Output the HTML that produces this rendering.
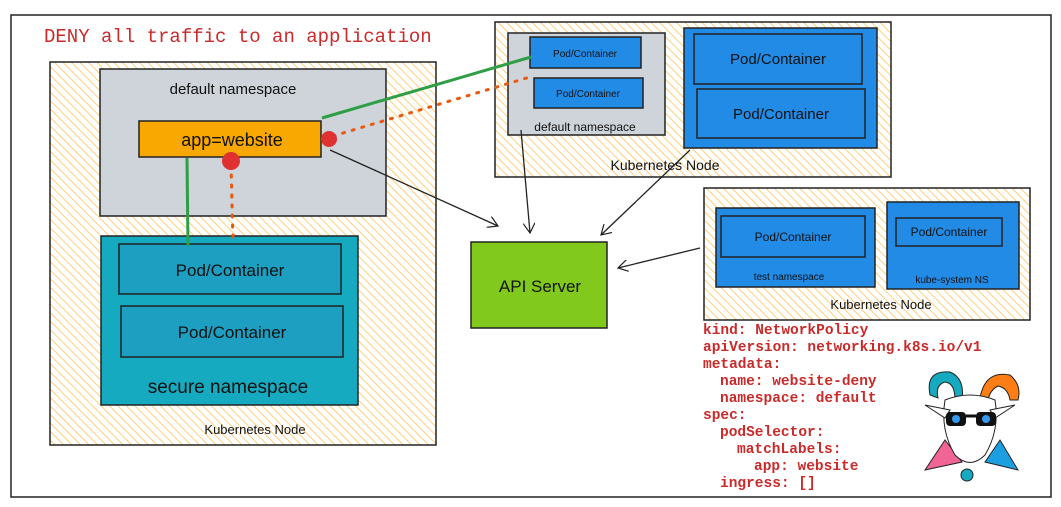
<!DOCTYPE html>
<html><head><meta charset="utf-8"><style>
html,body{margin:0;padding:0;background:#fff;}
svg{display:block;}
.h{font-family:"Liberation Sans",sans-serif;fill:#111;}
.m{font-family:"Liberation Mono",monospace;fill:#c92a2a;font-weight:bold;}
</style></head><body>
<svg width="1061" height="507" viewBox="0 0 1061 507" xmlns="http://www.w3.org/2000/svg">
<defs>
<pattern id="hat" width="6" height="6" patternUnits="userSpaceOnUse" patternTransform="rotate(-45)">
<rect width="6" height="6" fill="#fff"/>
<line x1="0" y1="0" x2="0" y2="6" stroke="#fcc45a" stroke-width="1.6"/>
</pattern>
<marker id="ar" markerWidth="12" markerHeight="12" refX="10" refY="6" orient="auto" markerUnits="userSpaceOnUse">
<path d="M0,0 L10,6 L0,12" fill="none" stroke="#222" stroke-width="1.2"/>
</marker>
</defs>
<rect x="11" y="15" width="1040" height="482" fill="#fff" stroke="#222" stroke-width="1.5"/>
<text x="44" y="42" class="m" font-size="19" font-weight="normal" style="font-weight:normal">DENY all traffic to an application</text>

<!-- left node -->
<rect x="50" y="62" width="386" height="383" fill="url(#hat)" stroke="#222" stroke-width="1.5"/>
<rect x="100" y="69" width="286" height="147" fill="#ced4da" stroke="#222" stroke-width="1.5"/>
<text x="233" y="94" class="h" font-size="15" text-anchor="middle">default namespace</text>
<rect x="139" y="121" width="182" height="36" fill="#f8a800" stroke="#222" stroke-width="1.5"/>
<text x="232" y="146" class="h" font-size="18" text-anchor="middle">app=website</text>
<rect x="101" y="236" width="257" height="169" fill="#15aabf" stroke="#222" stroke-width="1.5"/>
<rect x="119" y="244" width="222" height="50" fill="#1c9fc0" stroke="#222" stroke-width="1.5"/>
<text x="230" y="276" class="h" font-size="17" text-anchor="middle">Pod/Container</text>
<rect x="121" y="306" width="222" height="51" fill="#1c9fc0" stroke="#222" stroke-width="1.5"/>
<text x="232" y="338" class="h" font-size="17" text-anchor="middle">Pod/Container</text>
<text x="228" y="393" class="h" font-size="19" text-anchor="middle">secure namespace</text>
<text x="255" y="434" class="h" font-size="13" text-anchor="middle">Kubernetes Node</text>

<!-- top right node -->
<rect x="495" y="22" width="396" height="155" fill="url(#hat)" stroke="#222" stroke-width="1.5"/>
<rect x="508" y="33" width="157" height="102" fill="#ced4da" stroke="#222" stroke-width="1.5"/>
<rect x="530" y="37" width="111" height="31" fill="#228be6" stroke="#222" stroke-width="1.5"/>
<text x="585" y="57" class="h" font-size="10" text-anchor="middle">Pod/Container</text>
<rect x="534" y="78" width="109" height="30" fill="#228be6" stroke="#222" stroke-width="1.5"/>
<text x="588" y="97" class="h" font-size="10" text-anchor="middle">Pod/Container</text>
<text x="585" y="131" class="h" font-size="12" text-anchor="middle">default namespace</text>
<rect x="684" y="28" width="193" height="120" fill="#228be6" stroke="#222" stroke-width="1.5"/>
<rect x="694" y="34" width="168" height="50" fill="#228be6" stroke="#222" stroke-width="1.5"/>
<text x="778" y="64" class="h" font-size="15" text-anchor="middle">Pod/Container</text>
<rect x="697" y="89" width="168" height="49" fill="#228be6" stroke="#222" stroke-width="1.5"/>
<text x="781" y="119" class="h" font-size="15" text-anchor="middle">Pod/Container</text>
<text x="665" y="170" class="h" font-size="14" text-anchor="middle">Kubernetes Node</text>

<!-- API server -->
<rect x="471" y="242" width="136" height="86" fill="#82c91e" stroke="#222" stroke-width="1.5"/>
<text x="540" y="292" class="h" font-size="17" text-anchor="middle">API Server</text>

<!-- right node -->
<rect x="704" y="188" width="326" height="132" fill="url(#hat)" stroke="#222" stroke-width="1.5"/>
<rect x="716" y="208" width="159" height="79" fill="#228be6" stroke="#222" stroke-width="1.5"/>
<rect x="721" y="216" width="144" height="41" fill="#228be6" stroke="#222" stroke-width="1.5"/>
<text x="793" y="241" class="h" font-size="12" text-anchor="middle">Pod/Container</text>
<text x="789" y="280" class="h" font-size="10" text-anchor="middle">test namespace</text>
<rect x="887" y="202" width="132" height="87" fill="#228be6" stroke="#222" stroke-width="1.5"/>
<rect x="896" y="218" width="106" height="28" fill="#228be6" stroke="#222" stroke-width="1.5"/>
<text x="949" y="236" class="h" font-size="12" text-anchor="middle">Pod/Container</text>
<text x="952" y="283" class="h" font-size="10" text-anchor="middle">kube-system NS</text>
<text x="881" y="309" class="h" font-size="13" text-anchor="middle">Kubernetes Node</text>

<!-- connectors -->
<line x1="187" y1="158" x2="188" y2="246" stroke="#2f9e44" stroke-width="3"/>
<line x1="322" y1="118" x2="531" y2="57" stroke="#2f9e44" stroke-width="3"/>
<line x1="231" y1="165" x2="233" y2="242" stroke="#e8590c" stroke-width="3" stroke-dasharray="2,8" stroke-linecap="round"/>
<line x1="333" y1="136" x2="530" y2="77" stroke="#e8590c" stroke-width="3" stroke-dasharray="2,8" stroke-linecap="round"/>
<circle cx="329" cy="139" r="8" fill="#e03131"/>
<circle cx="231" cy="161" r="9" fill="#e03131"/>
<line x1="330" y1="150" x2="498" y2="226" stroke="#222" stroke-width="1.3" marker-end="url(#ar)"/>
<line x1="521" y1="130" x2="530" y2="233" stroke="#222" stroke-width="1.3" marker-end="url(#ar)"/>
<line x1="690" y1="150" x2="601" y2="235" stroke="#222" stroke-width="1.3" marker-end="url(#ar)"/>
<line x1="700" y1="248" x2="618" y2="268" stroke="#222" stroke-width="1.3" marker-end="url(#ar)"/>

<!-- code -->
<g class="m" font-size="14.5">
<text x="703" y="334">kind: NetworkPolicy</text>
<text x="703" y="351">apiVersion: networking.k8s.io/v1</text>
<text x="703" y="368">metadata:</text>
<text x="703" y="385">  <tspan x="720">name: website-deny</tspan></text>
<text x="720" y="402">namespace: default</text>
<text x="703" y="419">spec:</text>
<text x="720" y="436">podSelector:</text>
<text x="737" y="453">matchLabels:</text>
<text x="754" y="470">app: website</text>
<text x="720" y="487">ingress: []</text>
</g>

<!-- goat -->
<g>
<path d="M930,395 Q925,370 950,372 Q965,378 962,400 L955,400 Q955,383 945,382 Q935,385 938,398Z" fill="#15aabf" stroke="#222"/>
<path d="M980,398 Q985,370 1010,375 Q1022,385 1018,400 L1010,400 Q1008,388 998,386 Q990,390 988,400Z" fill="#fd7e14" stroke="#222"/>
<path d="M925,470 L945,440 L962,462Z" fill="#f06595" stroke="#222"/>
<path d="M985,462 L1000,440 L1018,470Z" fill="#1c9fe0" stroke="#222"/>
<path d="M945,400 Q970,390 995,400 Q1000,430 985,455 Q970,470 955,455 Q940,430 945,400Z" fill="#fff" stroke="#222"/>
<path d="M925,405 L950,410 L945,418Z" fill="#fff" stroke="#222"/>
<path d="M1015,405 L990,410 L995,418Z" fill="#fff" stroke="#222"/>
<rect x="946" y="412" width="20" height="14" rx="4" fill="#111"/>
<rect x="976" y="412" width="20" height="14" rx="4" fill="#111"/>
<line x1="966" y1="416" x2="976" y2="416" stroke="#111" stroke-width="3"/>
<circle cx="956" cy="419" r="4" fill="#339af0"/>
<circle cx="986" cy="419" r="4" fill="#339af0"/>
<circle cx="967" cy="475" r="6" fill="#15aabf" stroke="#222"/>
</g>
</svg>
</body></html>
